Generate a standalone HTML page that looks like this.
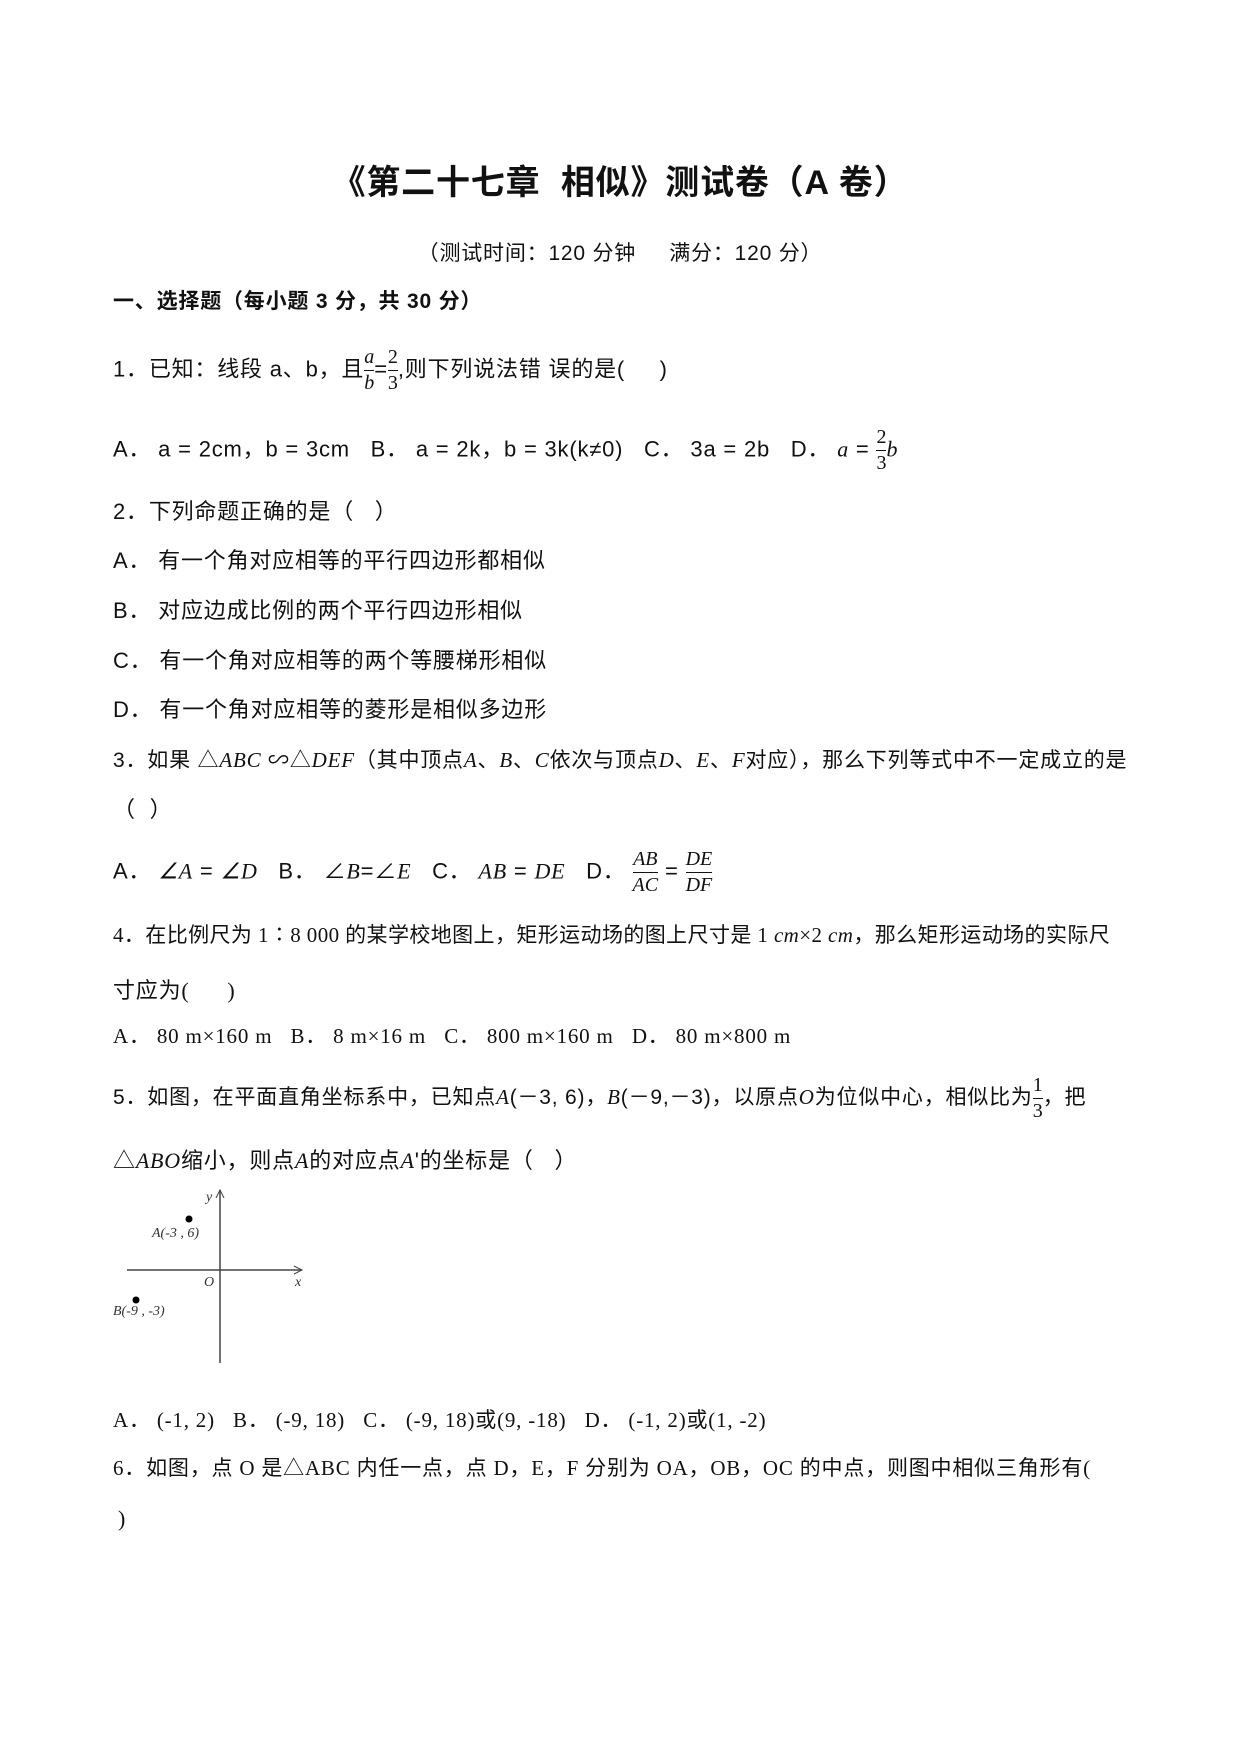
<!DOCTYPE html>
<html><head><meta charset="utf-8"><style>
body{margin:0;background:#fff;}
.p{position:relative;width:1240px;height:1754px;font-family:"Liberation Sans","Noto Sans CJK SC",sans-serif;color:#111;}
.t{position:absolute;white-space:nowrap;font-size:22px;line-height:1;letter-spacing:0.8px;}
.i{font-family:"Liberation Serif",serif;font-style:italic;}
.s{font-family:"Liberation Serif","Noto Sans CJK SC",serif;}
.fr{display:inline-block;vertical-align:middle;text-align:center;font-family:"Liberation Serif",serif;font-style:italic;font-size:20px;line-height:1.25;letter-spacing:0;}
.fr span{display:block;}
.fr .n{border-bottom:1px solid #111;}
</style></head><body><div class="p">
<div class="t" style="left:0;width:1240px;text-align:center;top:166px;font-size:34px;font-weight:bold;">《第二十七章&nbsp; 相似》测试卷（A 卷）</div>
<div class="t" style="left:0;width:1240px;text-align:center;top:243px;font-size:21px;">（测试时间：120 分钟&nbsp;&nbsp;&nbsp;&nbsp; 满分：120 分）</div>
<div class="t" style="left:113px;top:291px;font-weight:bold;font-size:21px;">一、选择题（每小题 3 分，共 30 分）</div>
<div class="t" style="left:113px;top:345px;">1．已知：线段 a、b，且<span class="fr"><span class="n">a</span><span>b</span></span>=<span class="fr"><span class="n" style="font-style:normal">2</span><span style="font-style:normal">3</span></span>,则下列说法错 误的是(&nbsp;&nbsp;&nbsp;&nbsp; )</div>
<div class="t" style="left:113px;top:425px;">A． a = 2cm，b = 3cm&nbsp;&nbsp; B． a = 2k，b = 3k(k≠0)&nbsp;&nbsp; C． 3a = 2b&nbsp;&nbsp; D． <span class="i">a</span> = <span class="fr"><span class="n" style="font-style:normal">2</span><span style="font-style:normal">3</span></span><span class="i">b</span></div>
<div class="t" style="left:113px;top:501px;">2．下列命题正确的是（&nbsp;&nbsp; ）</div>
<div class="t" style="left:113px;top:550px;">A． 有一个角对应相等的平行四边形都相似</div>
<div class="t" style="left:113px;top:600px;">B． 对应边成比例的两个平行四边形相似</div>
<div class="t" style="left:113px;top:650px;">C． 有一个角对应相等的两个等腰梯形相似</div>
<div class="t" style="left:113px;top:699px;">D． 有一个角对应相等的菱形是相似多边形</div>
<div class="t" style="left:113px;top:750px;font-size:21px;">3．如果 △<span class="i">ABC</span> ∽△<span class="i">DEF</span>（其中顶点<span class="i">A</span>、<span class="i">B</span>、<span class="i">C</span>依次与顶点<span class="i">D</span>、<span class="i">E</span>、<span class="i">F</span>对应），那么下列等式中不一定成立的是</div>
<div class="t" style="left:113px;top:799px;">（&nbsp; ）</div>
<div class="t" style="left:113px;top:847px;">A． <span class="i">∠A</span> = <span class="i">∠D</span>&nbsp;&nbsp; B． ∠<span class="i">B</span>=∠<span class="i">E</span>&nbsp;&nbsp; C． <span class="i">AB</span> = <span class="i">DE</span>&nbsp;&nbsp; D． <span class="fr"><span class="n">AB</span><span>AC</span></span> = <span class="fr"><span class="n">DE</span><span>DF</span></span></div>
<div class="t s" style="left:113px;top:925px;font-size:21px;letter-spacing:0.4px;">4．在比例尺为 1∶8 000 的某学校地图上，矩形运动场的图上尺寸是 1 <i>cm</i>×2 <i>cm</i>，那么矩形运动场的实际尺</div>
<div class="t s" style="left:113px;top:980px;">寸应为(&nbsp;&nbsp;&nbsp;&nbsp;&nbsp; )</div>
<div class="t s" style="left:113px;top:1026px;font-size:21px;">A． 80 m×160 m&nbsp;&nbsp; B． 8 m×16 m&nbsp;&nbsp; C． 800 m×160 m&nbsp;&nbsp; D． 80 m×800 m</div>
<div class="t" style="left:113px;top:1073px;font-size:21px;">5．如图，在平面直角坐标系中，已知点<span class="i">A</span>(－3, 6)，<span class="i">B</span>(－9,－3)，以原点<span class="i">O</span>为位似中心，相似比为<span class="fr"><span class="n" style="font-style:normal">1</span><span style="font-style:normal">3</span></span>，把</div>
<div class="t" style="left:113px;top:1150px;">△<span class="i">ABO</span>缩小，则点<span class="i">A</span>的对应点<span class="i">A</span>'的坐标是（&nbsp;&nbsp; ）</div>
<svg style="position:absolute;left:0;top:0" width="1240" height="1754">
<g transform="translate(0,-10)">
<line x1="220" y1="1373" x2="220" y2="1200" stroke="#444" stroke-width="1.5"/>
<line x1="127" y1="1280" x2="302" y2="1280" stroke="#444" stroke-width="1.5"/>
<path d="M216 1208 L220 1200 L224 1208" fill="none" stroke="#444"/>
<path d="M294 1276 L302 1280 L294 1284" fill="none" stroke="#444"/>
<circle cx="189" cy="1229" r="3.5" fill="#000"/>
<circle cx="136" cy="1310" r="3.5" fill="#000"/>
<g font-family="Liberation Serif" font-style="italic" font-size="14" fill="#333">
<text x="206" y="1211">y</text><text x="295" y="1296">x</text><text x="204" y="1296">O</text>
<text x="152" y="1247">A(-3 , 6)</text><text x="113" y="1325">B(-9 , -3)</text></g></g>
</svg>
<div class="t s" style="left:113px;top:1410px;font-size:21px;">A． (-1, 2)&nbsp;&nbsp; B． (-9, 18)&nbsp;&nbsp; C． (-9, 18)或(9, -18)&nbsp;&nbsp; D． (-1, 2)或(1, -2)</div>
<div class="t s" style="left:113px;top:1458px;font-size:21px;">6．如图，点 O 是△ABC 内任一点，点 D，E，F 分别为 OA，OB，OC 的中点，则图中相似三角形有(</div>
<div class="t s" style="left:118px;top:1508px;">)</div>
</div></body></html>
